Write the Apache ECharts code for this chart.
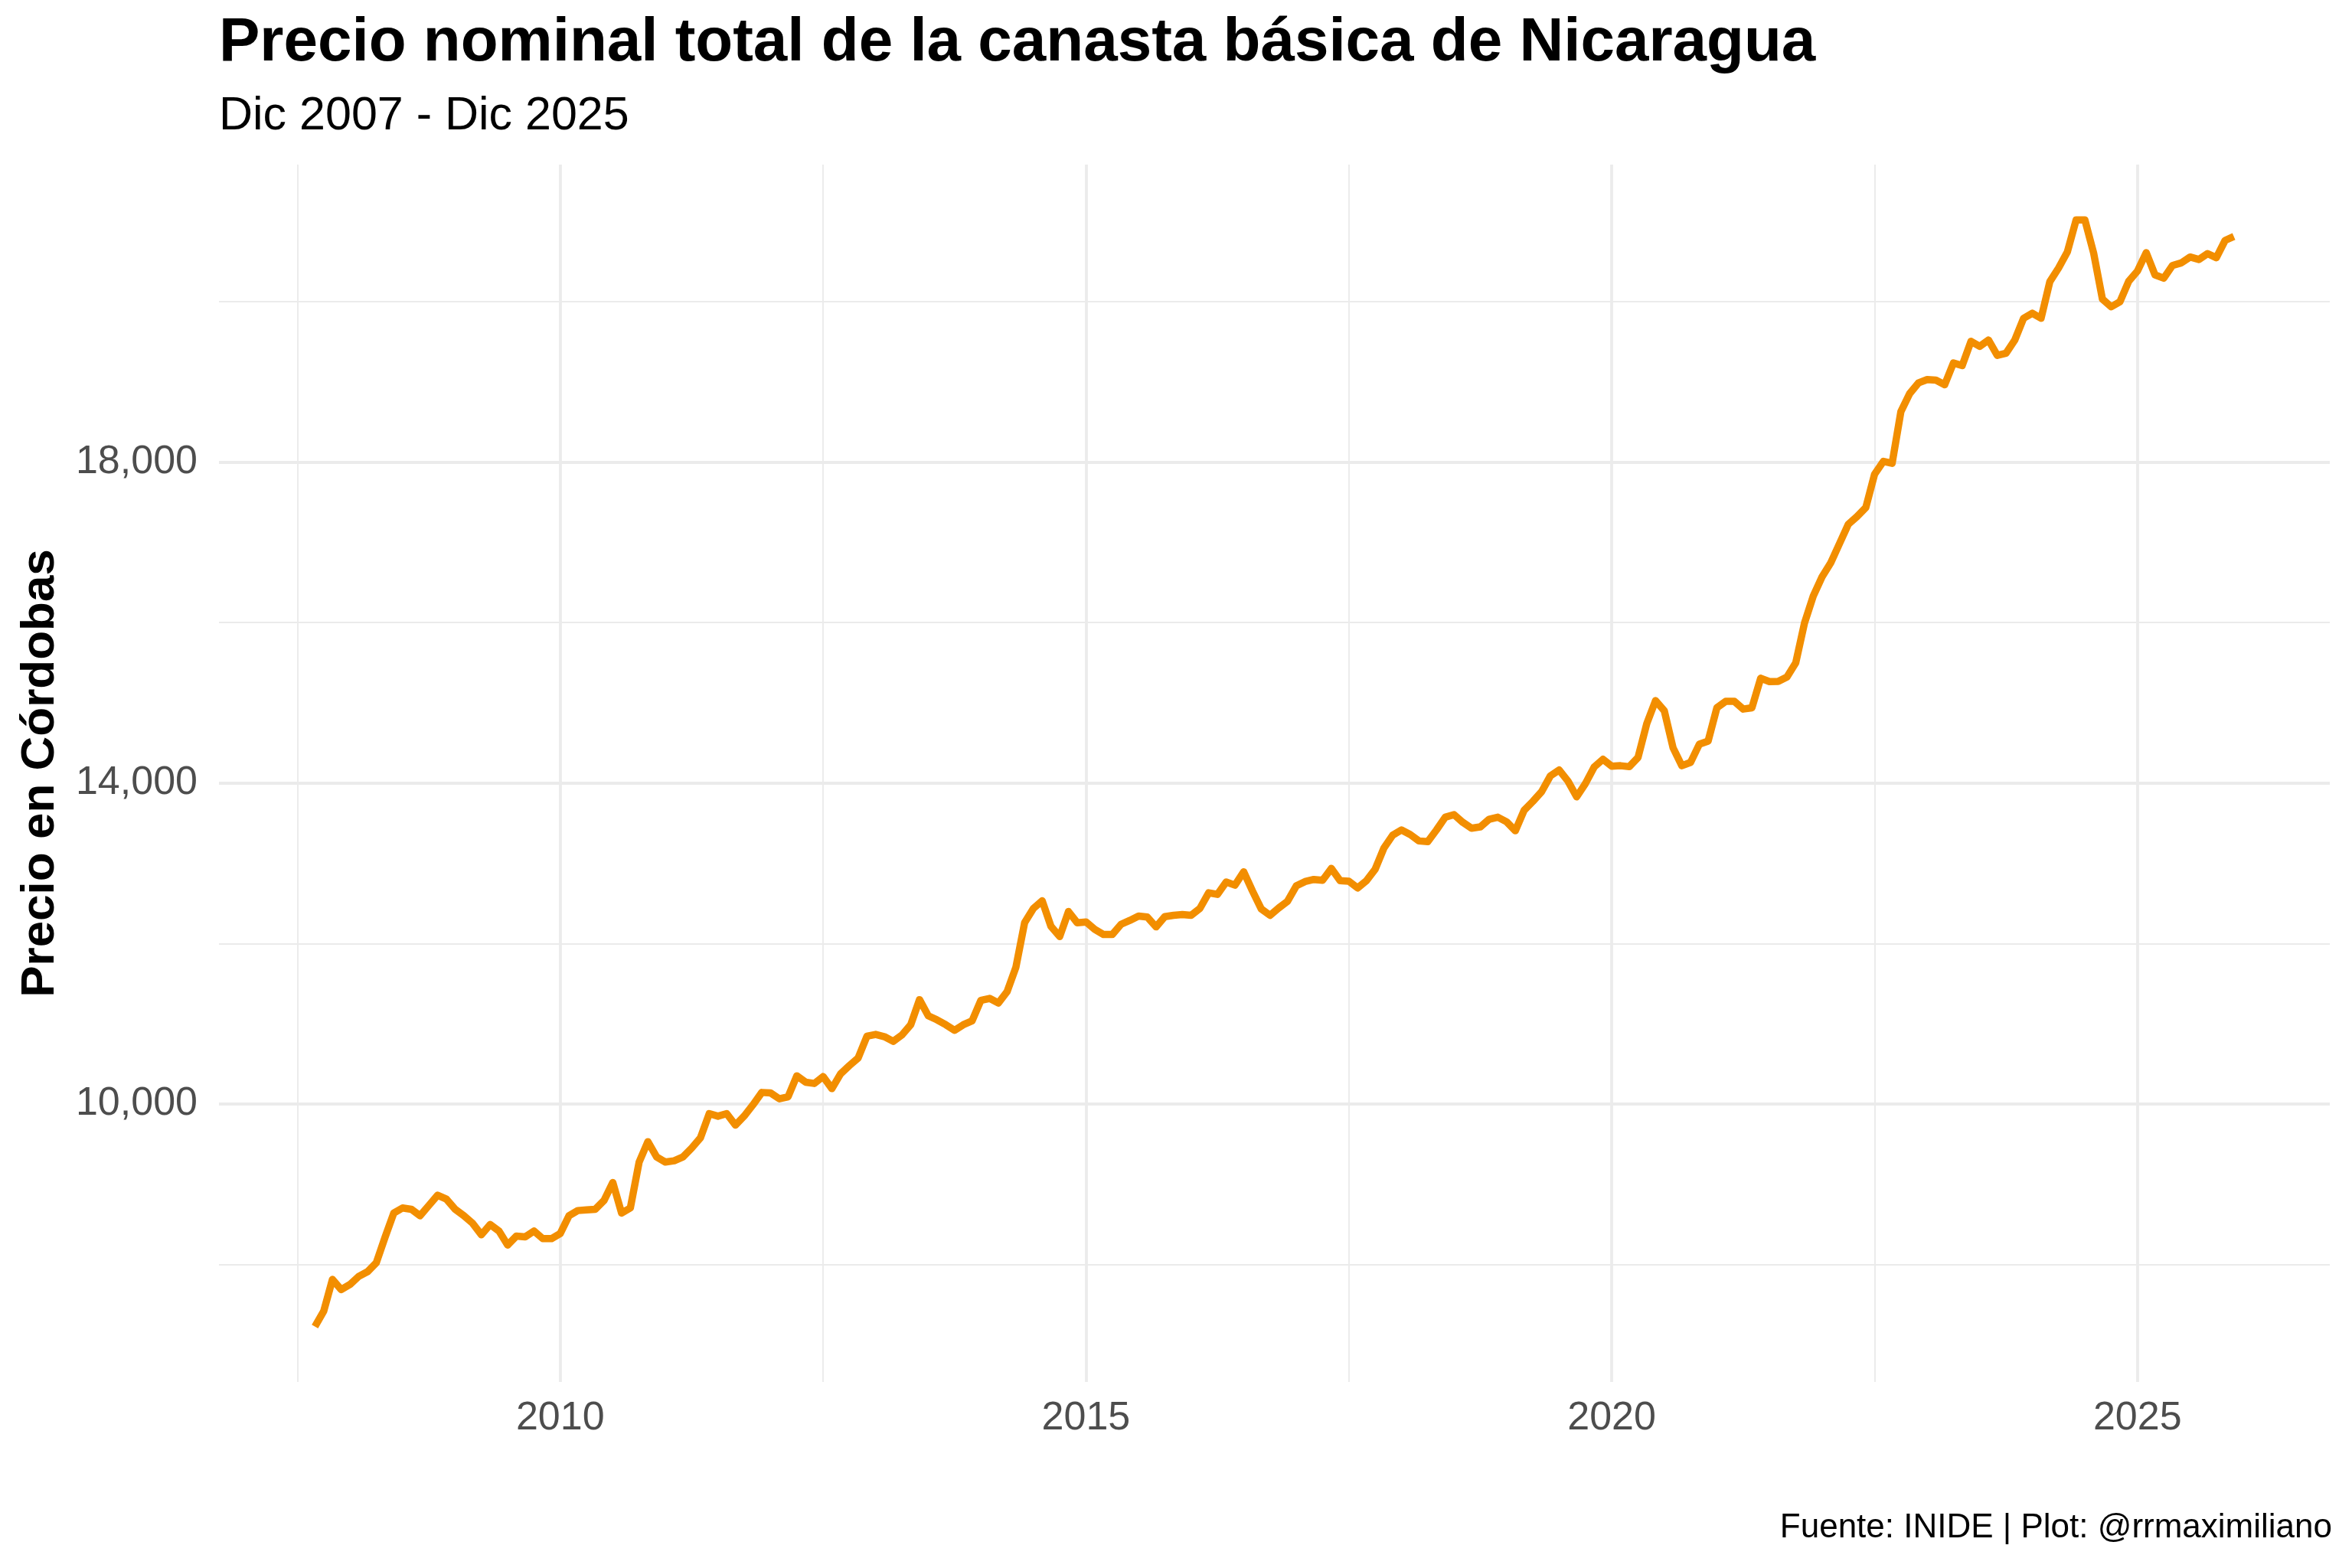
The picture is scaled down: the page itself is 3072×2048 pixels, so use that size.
<!DOCTYPE html>
<html>
<head>
<meta charset="utf-8">
<title>Canasta básica Nicaragua</title>
<script src="https://cdn.jsdelivr.net/npm/echarts@6/dist/echarts.min.js"></script>
<style>
  html, body { margin: 0; padding: 0; background: #ffffff; }
  #chart { width: 3072px; height: 2048px; }
</style>
</head>
<body>
<div id="chart"></div>
<script>
// primer mes de la serie (sep 2007), luego mensual
const inicioAnio = 2007;
const inicioMes = 9;

// precio nominal total de la canasta, en córdobas (mensual)
const precio = [
  7224, 7415, 7812, 7685,                                                   // 2007
  7749, 7850, 7908, 8019, 8337, 8639, 8703, 8687, 8607, 8734, 8862, 8814,   // 2008
  8687, 8607, 8512, 8369, 8496, 8416, 8241, 8353, 8343, 8416, 8321, 8321,   // 2009
  8385, 8607, 8671, 8680, 8687, 8798, 9021, 8639, 8703, 9275, 9529, 9339,   // 2010
  9275, 9291, 9339, 9450, 9577, 9879, 9847, 9879, 9736, 9850, 9990, 10143,  // 2011
  10137, 10064, 10089, 10350, 10271, 10255, 10341, 10191, 10376, 10478, 10573, 10844, // 2012
  10866, 10838, 10780, 10860, 10987, 11300, 11099, 11048, 10987, 10917, 10987, 11035, // 2013
  11290, 11315, 11258, 11401, 11704, 12261, 12437, 12532, 12214, 12086, 12398, 12258, // 2014
  12268, 12175, 12112, 12112, 12239, 12287, 12341, 12329, 12207, 12335, 12351, 12360, // 2015
  12351, 12437, 12632, 12612, 12766, 12727, 12893, 12654, 12431, 12351, 12443, 12526, // 2016
  12718, 12772, 12798, 12788, 12935, 12782, 12775, 12692, 12782, 12925, 13190, 13350, // 2017
  13415, 13358, 13278, 13269, 13415, 13574, 13606, 13510, 13437, 13453, 13548, 13574, // 2018
  13517, 13405, 13660, 13771, 13892, 14089, 14162, 14025, 13828, 13994, 14200, 14296, // 2019
  14210, 14216, 14204, 14318, 14741, 15027, 14900, 14439, 14216, 14257, 14484, 14522, // 2020
  14938, 15018, 15018, 14922, 14938, 15306, 15264, 15267, 15322, 15498, 15994, 16330, // 2021
  16570, 16746, 16986, 17226, 17322, 17434, 17850, 18010, 17985, 18630, 18854, 18987, // 2022
  19029, 19022, 18965, 19236, 19204, 19506, 19443, 19522, 19331, 19357, 19522, 19793, // 2023
  19857, 19793, 20250, 20420, 20621, 21019, 21019, 20605, 20032, 19936, 20000, 20255, // 2024
  20382, 20612, 20334, 20293, 20452, 20484, 20557, 20526, 20599, 20548, 20764, 20812  // 2025
];

const xTicks = [2010, 2015, 2020, 2025];
const xMinor = [2007.5, 2012.5, 2017.5, 2022.5];
const yTicks = [10000, 14000, 18000];
const yMinor = [8000, 12000, 16000, 20000];

const fechas = precio.map((v, i) => inicioAnio + (inicioMes - 1 + i) / 12);
const serie = precio.map((v, i) => [fechas[i], v]);

// expansion de 5% como ggplot
const expand = (lo, hi) => [lo - 0.05 * (hi - lo), hi + 0.05 * (hi - lo)];
const xRange = expand(Math.min(...fechas), Math.max(...fechas));
const yRange = expand(Math.min(...precio), Math.max(...precio));

const FONT = 'Liberation Sans';
const GRID_COLOR = '#EBEBEB';

const gridLines = [].concat(
  xMinor.map(v => ({ xAxis: v, lineStyle: { width: 1.9 } })),
  yMinor.map(v => ({ yAxis: v, lineStyle: { width: 1.9 } })),
  xTicks.map(v => ({ xAxis: v, lineStyle: { width: 3.8 } })),
  yTicks.map(v => ({ yAxis: v, lineStyle: { width: 3.8 } }))
);

const chart = echarts.init(document.getElementById('chart'), null, { renderer: 'canvas' });

chart.setOption({
  animation: false,
  backgroundColor: '#ffffff',
  textStyle: { fontFamily: FONT },
  title: [
    {
      text: 'Precio nominal total de la canasta básica de Nicaragua',
      left: 286, top: 17, padding: 0,
      textStyle: { fontFamily: FONT, fontWeight: 'bold', fontSize: 80, color: '#000000' }
    },
    {
      text: 'Dic 2007 - Dic 2025',
      left: 286, top: 122, padding: 0,
      textStyle: { fontFamily: FONT, fontWeight: 'normal', fontSize: 61, color: '#000000' }
    },
    {
      text: 'Fuente: INIDE | Plot: @rrmaximiliano',
      right: 26, top: 1974, padding: 0,
      textStyle: { fontFamily: FONT, fontWeight: 'normal', fontSize: 44, color: '#000000' }
    }
  ],
  grid: { left: 286, right: 29, top: 215, bottom: 243, containLabel: false },
  xAxis: {
    type: 'value',
    min: xRange[0],
    max: xRange[1],
    axisLine: { show: false },
    axisTick: { show: false },
    splitLine: { show: false },
    axisLabel: {
      customValues: xTicks,
      fontFamily: FONT, fontSize: 52, color: '#4D4D4D', margin: 22,
      formatter: v => String(v)
    }
  },
  yAxis: {
    type: 'value',
    min: yRange[0],
    max: yRange[1],
    axisLine: { show: false },
    axisTick: { show: false },
    splitLine: { show: false },
    axisLabel: {
      customValues: yTicks,
      fontFamily: FONT, fontSize: 52, color: '#4D4D4D', margin: 28,
      formatter: v => v.toLocaleString('en-US')
    },
    name: 'Precio en Córdobas',
    nameLocation: 'middle',
    nameGap: 202,
    nameTextStyle: { fontFamily: FONT, fontWeight: 'bold', fontSize: 62, color: '#000000' }
  },
  series: [
    {
      name: 'rejilla',
      type: 'line',
      data: [],
      z: 1,
      silent: true,
      markLine: {
        silent: true,
        z: 1,
        symbol: ['none', 'none'],
        label: { show: false },
        lineStyle: { color: GRID_COLOR, type: 'solid' },
        emphasis: { disabled: true },
        animation: false,
        data: gridLines
      }
    },
    {
      name: 'Precio',
      type: 'line',
      data: serie,
      z: 10,
      showSymbol: false,
      symbol: 'none',
      lineStyle: { color: '#F28E00', width: 9.5, cap: 'butt', join: 'round' }
    }
  ]
});
</script>
</body>
</html>
